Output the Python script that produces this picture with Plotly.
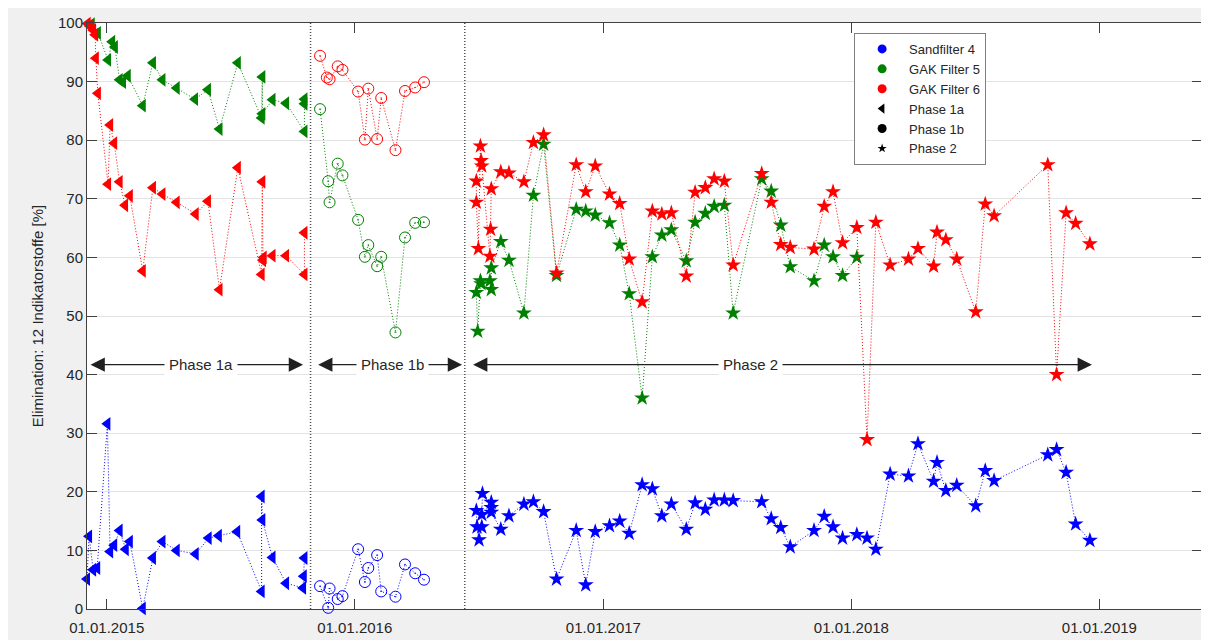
import plotly.graph_objects as go

# ---------------- data ----------------
# Sandfilter 4 (blue)
s4_1a_dates = ["2014-12-03", "2014-12-06", "2014-12-12", "2014-12-18", "2015-01-02", "2015-01-06",
               "2015-01-12", "2015-01-20", "2015-01-29", "2015-02-04", "2015-02-23", "2015-03-10",
               "2015-03-24", "2015-04-14", "2015-05-12", "2015-05-31", "2015-06-15", "2015-07-12",
               "2015-08-17", "2015-08-17", "2015-08-18", "2015-09-02", "2015-09-22", "2015-10-17",
               "2015-10-18", "2015-10-19"]
s4_1a_vals = [5.1, 12.4, 6.7, 7.0, 31.6, 9.8, 10.9, 13.4, 10.2, 11.5, 0.1, 8.7,
              11.5, 10.0, 9.4, 12.1, 12.5, 13.2, 3.0, 19.2, 15.2, 8.8, 4.4, 3.6, 5.6, 8.7]
s4_1b_dates = ["2015-11-11", "2015-11-23", "2015-11-25", "2015-12-07", "2015-12-14", "2016-01-06",
               "2016-01-16", "2016-01-21", "2016-02-03", "2016-02-09", "2016-03-01", "2016-03-15",
               "2016-03-30", "2016-04-12"]
s4_1b_vals = [3.9, 0.2, 3.5, 1.7, 2.2, 10.2, 4.6, 7.0, 9.2, 3.0, 2.1, 7.6, 6.1, 5.0]
s4_2_dates = ["2016-06-28", "2016-06-29", "2016-07-02", "2016-07-06", "2016-07-06", "2016-07-07",
              "2016-07-20", "2016-07-20", "2016-07-20", "2016-08-03", "2016-08-15", "2016-09-06",
              "2016-09-20", "2016-10-05", "2016-10-24", "2016-11-22", "2016-12-06", "2016-12-20",
              "2017-01-10", "2017-01-25", "2017-02-08", "2017-02-27", "2017-03-14", "2017-03-28",
              "2017-04-11", "2017-05-03", "2017-05-16", "2017-05-31", "2017-06-13", "2017-06-28",
              "2017-07-11", "2017-08-22", "2017-09-05", "2017-09-19", "2017-10-03", "2017-11-07",
              "2017-11-22", "2017-12-05", "2017-12-19", "2018-01-09", "2018-01-24", "2018-02-06",
              "2018-02-27", "2018-03-26", "2018-04-09", "2018-05-02", "2018-05-07", "2018-05-20",
              "2018-06-05", "2018-07-03", "2018-07-17", "2018-07-30", "2018-10-17", "2018-10-30",
              "2018-11-13", "2018-11-27", "2018-12-18"]
s4_2_vals = [16.8, 14.0, 11.8, 14.0, 16.1, 19.7, 18.2, 17.3, 16.5, 13.6, 15.9, 17.9,
             18.3, 16.6, 5.1, 13.4, 4.1, 13.2, 14.2, 15.0, 12.9, 21.2, 20.5, 15.9,
             17.9, 13.6, 18.1, 17.0, 18.6, 18.6, 18.5, 18.3, 15.4, 13.9, 10.6, 13.4,
             15.8, 14.0, 12.1, 12.7, 12.1, 10.2, 23.0, 22.7, 28.2, 21.8, 25.0, 20.2,
             21.1, 17.6, 23.6, 21.9, 26.3, 27.2, 23.3, 14.5, 11.7]

# GAK Filter 5 (green)
g5_1a_dates = ["2014-12-10", "2014-12-19", "2015-01-03", "2015-01-09", "2015-01-13", "2015-01-20",
               "2015-01-25", "2015-02-01", "2015-02-23", "2015-03-10", "2015-03-24", "2015-04-14",
               "2015-05-11", "2015-05-30", "2015-06-16", "2015-07-13", "2015-08-17", "2015-08-18",
               "2015-08-18", "2015-09-02", "2015-09-22", "2015-10-19", "2015-10-19", "2015-10-19"]
g5_1a_vals = [99.8, 98.3, 93.7, 96.8, 95.9, 90.3, 89.9, 91.0, 85.9, 93.2, 90.3, 88.9,
              87.0, 88.6, 81.9, 93.2, 83.8, 90.8, 84.5, 86.9, 86.3, 81.5, 86.2, 87.0]
g5_1b_dates = ["2015-11-11", "2015-11-23", "2015-11-25", "2015-12-07", "2015-12-14", "2016-01-06",
               "2016-01-16", "2016-01-21", "2016-02-03", "2016-02-09", "2016-03-01", "2016-03-15",
               "2016-03-30", "2016-04-12"]
g5_1b_vals = [85.3, 73.0, 69.4, 76.0, 74.0, 66.4, 60.1, 62.1, 58.5, 60.1, 47.2, 63.4, 65.9, 66.0]
g5_2_dates = ["2016-06-28", "2016-06-30", "2016-07-04", "2016-07-05", "2016-07-18", "2016-07-20",
              "2016-07-20", "2016-08-03", "2016-08-15", "2016-09-06", "2016-09-20", "2016-10-05",
              "2016-10-24", "2016-11-22", "2016-12-06", "2016-12-20", "2017-01-10", "2017-01-25",
              "2017-02-08", "2017-02-27", "2017-03-14", "2017-03-28", "2017-04-11", "2017-05-03",
              "2017-05-16", "2017-05-31", "2017-06-13", "2017-06-28", "2017-07-11", "2017-08-22",
              "2017-09-05", "2017-09-19", "2017-10-03", "2017-11-07", "2017-11-22", "2017-12-05",
              "2017-12-19", "2018-01-09"]
g5_2_vals = [54.0, 47.4, 56.0, 55.5, 56.0, 54.5, 58.2, 62.7, 59.5, 50.5, 70.6, 79.3,
             56.9, 68.2, 67.9, 67.2, 65.9, 62.1, 53.8, 36.0, 60.1, 63.8, 64.7, 59.4,
             66.0, 67.5, 68.7, 68.9, 50.5, 73.4, 71.3, 65.5, 58.4, 56.0, 62.1, 60.1,
             56.9, 60.0]

# GAK Filter 6 (red)
g6_1a_dates = ["2014-12-04", "2014-12-07", "2014-12-12", "2014-12-15", "2014-12-16", "2014-12-19",
               "2015-01-03", "2015-01-06", "2015-01-12", "2015-01-20", "2015-01-28", "2015-02-04",
               "2015-02-23", "2015-03-10", "2015-03-24", "2015-04-14", "2015-05-12", "2015-05-30",
               "2015-06-16", "2015-07-13", "2015-08-17", "2015-08-18", "2015-08-19", "2015-08-20",
               "2015-09-02", "2015-09-22", "2015-10-19", "2015-10-19"]
g6_1a_vals = [99.9, 99.5, 98.8, 98.0, 94.0, 88.0, 72.5, 82.6, 79.5, 72.9, 68.9, 70.5,
              57.7, 71.9, 70.8, 69.4, 67.4, 69.6, 54.5, 75.3, 57.1, 72.9, 59.5, 60.0,
              60.3, 60.3, 57.1, 64.2]
g6_1b_dates = ["2015-11-11", "2015-11-21", "2015-11-25", "2015-12-07", "2015-12-14", "2016-01-06",
               "2016-01-16", "2016-01-21", "2016-02-03", "2016-02-09", "2016-03-01", "2016-03-15",
               "2016-03-30", "2016-04-12"]
g6_1b_vals = [94.4, 90.7, 90.4, 92.6, 92.0, 88.3, 80.1, 88.8, 80.2, 87.2, 78.3, 88.4, 89.0, 89.9]
g6_2_dates = ["2016-06-28", "2016-06-28", "2016-07-01", "2016-07-04", "2016-07-05", "2016-07-06",
              "2016-07-18", "2016-07-19", "2016-07-20", "2016-08-03", "2016-08-15", "2016-09-06",
              "2016-09-20", "2016-10-05", "2016-10-24", "2016-11-22", "2016-12-06", "2016-12-20",
              "2017-01-10", "2017-01-25", "2017-02-08", "2017-02-27", "2017-03-14", "2017-03-28",
              "2017-04-11", "2017-05-03", "2017-05-16", "2017-05-31", "2017-06-13", "2017-06-28",
              "2017-07-11", "2017-08-22", "2017-09-05", "2017-09-19", "2017-10-03", "2017-11-07",
              "2017-11-22", "2017-12-05", "2017-12-19", "2018-01-09", "2018-01-24", "2018-02-06",
              "2018-02-27", "2018-03-26", "2018-04-09", "2018-05-02", "2018-05-07", "2018-05-20",
              "2018-06-05", "2018-07-03", "2018-07-17", "2018-07-30", "2018-10-17", "2018-10-30",
              "2018-11-13", "2018-11-27", "2018-12-18"]
g6_2_vals = [73.0, 69.4, 61.5, 79.0, 76.5, 75.6, 60.2, 64.8, 71.7, 74.6, 74.4, 72.9,
             79.6, 80.9, 57.3, 75.8, 71.2, 75.6, 70.8, 69.2, 59.7, 52.4, 67.9, 67.4,
             67.6, 56.8, 71.1, 71.9, 73.4, 73.0, 58.7, 74.3, 69.4, 62.2, 61.7, 61.4,
             68.7, 71.2, 62.5, 65.1, 28.9, 66.0, 58.7, 59.7, 61.5, 58.5, 64.3, 63.0,
             59.7, 50.7, 69.1, 67.1, 75.8, 40.0, 67.6, 65.8, 62.3]

series_names = ["Sandfilter 4", "GAK Filter 5", "GAK Filter 6"]
series_colors = ["#0000ff", "#008000", "#ff0000"]
phase_names = ["Phase 1a", "Phase 1b", "Phase 2"]

# phase boundaries & arrows
phase_bounds = ["2015-10-28", "2016-06-11"]
arrow_starts = ["2014-12-06", "2015-11-06", "2016-06-21"]
arrow_ends = ["2015-10-17", "2016-06-07", "2018-12-21"]
arrow_label_x = ["2015-05-20", "2016-02-25", "2017-08-06"]
arrow_y = 41.7

x_tickvals = ["2015-01-01", "2016-01-01", "2017-01-01", "2018-01-01", "2019-01-01"]
x_ticktext = ["01.01.2015", "01.01.2016", "01.01.2017", "01.01.2018", "01.01.2019"]
y_tickvals = [0, 10, 20, 30, 40, 50, 60, 70, 80, 90, 100]

# ---------------- figure ----------------
FONT = "Liberation Sans, Arial, Helvetica, sans-serif"
TXT = "#262626"

data = {
    0: [(s4_1a_dates, s4_1a_vals), (s4_1b_dates, s4_1b_vals), (s4_2_dates, s4_2_vals)],
    1: [(g5_1a_dates, g5_1a_vals), (g5_1b_dates, g5_1b_vals), (g5_2_dates, g5_2_vals)],
    2: [(g6_1a_dates, g6_1a_vals), (g6_1b_dates, g6_1b_vals), (g6_2_dates, g6_2_vals)],
}
phase_marker = [
    dict(symbol="triangle-left", size=12),
    dict(symbol="circle-open-dot", size=11),
    dict(symbol="star", size=12),
]

fig = go.Figure()
for si in range(3):
    col = series_colors[si]
    for pi in range(3):
        xs, ys = data[si][pi]
        pm = phase_marker[pi]
        if pi == 1:
            marker = dict(symbol=pm["symbol"], size=pm["size"], color=col,
                          line=dict(color=col, width=1))
        else:
            marker = dict(symbol=pm["symbol"], size=pm["size"], color=col,
                          line=dict(width=0))
        fig.add_trace(go.Scatter(
            x=xs, y=ys, mode="lines+markers",
            line=dict(color=col, width=1, dash="1px,2px"),
            marker=marker, showlegend=False, cliponaxis=False,
            hoverinfo="x+y",
        ))

# legend entries
for si in range(3):
    fig.add_trace(go.Scatter(x=[None], y=[None], mode="markers", name=series_names[si],
                             marker=dict(symbol="circle", size=9, color=series_colors[si])))
legend_syms = [("triangle-left", 9), ("circle", 9), ("star", 7)]
for pi in range(3):
    fig.add_trace(go.Scatter(x=[None], y=[None], mode="markers", name=phase_names[pi],
                             marker=dict(symbol=legend_syms[pi][0], size=legend_syms[pi][1],
                                         color="black")))

shapes = []
for b in phase_bounds:
    shapes.append(dict(type="line", xref="x", yref="paper", x0=b, x1=b, y0=0, y1=1,
                       line=dict(color="#505050", width=1.5, dash="1px,2px")))

annotations = []
for i in range(3):
    annotations.append(dict(
        x=arrow_ends[i], y=arrow_y, ax=arrow_starts[i], ay=arrow_y,
        xref="x", yref="y", axref="x", ayref="y", text="",
        showarrow=True, arrowhead=2, arrowside="end+start", arrowsize=2.2,
        arrowwidth=1.3, arrowcolor="#202020", standoff=0, startstandoff=0))
for i in range(3):
    annotations.append(dict(
        x=arrow_label_x[i], y=arrow_y, xref="x", yref="y", text=phase_names[i],
        showarrow=False, bgcolor="white", borderpad=4,
        font=dict(family=FONT, size=15, color=TXT)))

# page body has an 8px default margin, so the figure is sized to fit the window
fig.update_layout(
    width=1201, height=632,
    margin=dict(l=79, r=7, t=15, b=31, autoexpand=False),
    paper_bgcolor="#f0f0f0", plot_bgcolor="white",
    font=dict(family=FONT, size=15, color=TXT),
    shapes=shapes, annotations=annotations,
    legend=dict(x=0.688, y=0.983, xanchor="left", yanchor="top",
                bgcolor="white", bordercolor="#7f7f7f", borderwidth=1,
                font=dict(family=FONT, size=13, color=TXT), itemwidth=44,
                tracegroupgap=0),
    xaxis=dict(type="date", range=["2014-12-03", "2019-06-01"], automargin=False,
               tickvals=x_tickvals, ticktext=x_ticktext, ticklabelstandoff=5,
               ticks="inside", ticklen=10, tickcolor="#404040", tickwidth=1,
               showline=True, linecolor="#404040", linewidth=1, mirror="ticks",
               showgrid=False, zeroline=False,
               tickfont=dict(family=FONT, size=15, color=TXT)),
    yaxis=dict(range=[0, 100], tickvals=y_tickvals, automargin=False,
               ticks="inside", ticklen=10, tickcolor="#404040", tickwidth=1,
               showline=True, linecolor="#404040", linewidth=1, mirror="ticks",
               showgrid=True, gridcolor="#e3e3e3", gridwidth=1, zeroline=False,
               tickfont=dict(family=FONT, size=15, color=TXT),
               title=dict(text="Elimination: 12 Indikatorstoffe [%]", standoff=10,
                          font=dict(family=FONT, size=15, color=TXT))),
)

fig.write_html("out.html")
